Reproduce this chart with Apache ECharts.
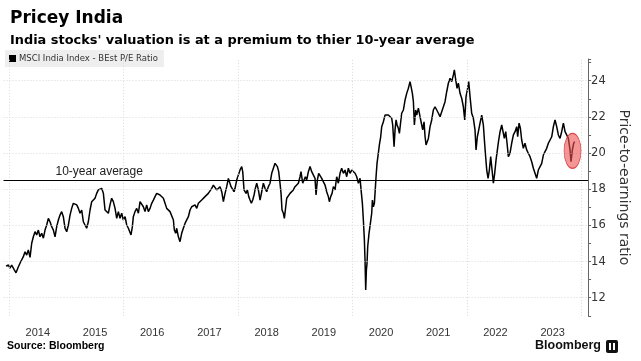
<!DOCTYPE html>
<html>
<head>
<meta charset="utf-8">
<script src="https://cdn.jsdelivr.net/npm/echarts@6/dist/echarts.min.js"></script>
<style>
html,body{margin:0;padding:0;background:#fff;}
#chart{width:641px;height:361px;}
</style>
</head>
<body>
<div id="chart"></div>
<script>
// ---- data (decimal years, P/E ratio) ----
const dates = [
2013.944,2013.985,2014.014,2014.043,2014.084,2014.119,2014.160,2014.201,2014.247,2014.276,
2014.305,2014.334,2014.364,2014.393,2014.422,2014.451,2014.480,2014.509,2014.538,2014.568,
2014.597,2014.626,2014.655,2014.684,2014.713,2014.743,2014.772,2014.801,2014.830,2014.859,
2014.888,2014.917,2014.946,2014.976,2015.005,2015.034,2015.063,2015.092,2015.121,2015.150,
2015.180,2015.209,2015.238,2015.267,2015.296,2015.325,2015.354,2015.383,2015.413,2015.442,
2015.471,2015.500,2015.529,2015.558,2015.587,2015.617,2015.646,2015.675,2015.704,2015.733,
2015.762,2015.791,2015.820,2015.850,2015.879,2015.908,2015.937,2015.966,2015.995,2016.025,
2016.054,2016.083,2016.112,2016.129,2016.153,2016.170,2016.199,2016.229,2016.258,2016.287,
2016.316,2016.345,2016.374,2016.403,2016.432,2016.462,2016.491,2016.520,2016.549,2016.578,
2016.607,2016.636,2016.666,2016.695,2016.724,2016.753,2016.782,2016.811,2016.840,2016.870,
2016.887,2016.910,2016.928,2016.957,2016.986,2017.015,2017.044,2017.073,2017.103,2017.132,
2017.161,2017.190,2017.219,2017.248,2017.278,2017.307,2017.336,2017.365,2017.394,2017.423,
2017.452,2017.481,2017.511,2017.540,2017.569,2017.598,2017.627,2017.656,2017.685,2017.715,
2017.744,2017.773,2017.802,2017.831,2017.848,2017.878,2017.901,2017.930,2017.948,2017.977,
2018.006,2018.035,2018.064,2018.082,2018.105,2018.140,2018.163,2018.187,2018.210,2018.233,
2018.257,2018.280,2018.303,2018.327,2018.356,2018.385,2018.414,2018.443,2018.472,2018.501,
2018.530,2018.560,2018.589,2018.618,2018.647,2018.665,2018.688,2018.711,2018.734,2018.752,
2018.769,2018.793,2018.810,2018.834,2018.851,2018.880,2018.909,2018.938,2018.967,2018.996,
2019.026,2019.055,2019.084,2019.101,2019.131,2019.154,2019.177,2019.200,2019.230,2019.259,
2019.288,2019.317,2019.346,2019.364,2019.387,2019.410,2019.434,2019.463,2019.492,2019.521,
2019.550,2019.579,2019.597,2019.620,2019.644,2019.667,2019.696,2019.725,2019.754,2019.783,
2019.812,2019.842,2019.871,2019.900,2019.929,2019.958,2019.987,2020.016,2020.046,2020.075,
2020.104,2020.133,2020.151,2020.174,2020.191,2020.209,2020.220,2020.232,2020.244,2020.255,
2020.267,2020.290,2020.314,2020.337,2020.349,2020.366,2020.384,2020.395,2020.413,2020.430,
2020.453,2020.471,2020.494,2020.512,2020.541,2020.570,2020.599,2020.628,2020.658,2020.687,
2020.704,2020.728,2020.745,2020.763,2020.780,2020.803,2020.821,2020.844,2020.861,2020.891,
2020.920,2020.949,2020.978,2021.007,2021.025,2021.048,2021.066,2021.083,2021.106,2021.124,
2021.153,2021.182,2021.211,2021.229,2021.252,2021.270,2021.287,2021.310,2021.328,2021.357,
2021.386,2021.415,2021.444,2021.474,2021.503,2021.532,2021.561,2021.590,2021.619,2021.648,
2021.677,2021.707,2021.736,2021.765,2021.782,2021.806,2021.829,2021.852,2021.881,2021.910,
2021.939,2021.963,2021.986,2022.009,2022.033,2022.056,2022.085,2022.114,2022.143,2022.161,
2022.184,2022.208,2022.231,2022.260,2022.289,2022.307,2022.324,2022.348,2022.371,2022.394,
2022.417,2022.441,2022.464,2022.487,2022.511,2022.534,2022.557,2022.581,2022.610,2022.639,
2022.656,2022.680,2022.703,2022.726,2022.755,2022.784,2022.814,2022.843,2022.872,2022.889,
2022.913,2022.936,2022.959,2022.988,2023.017,2023.046,2023.075,2023.105,2023.134,2023.163,
2023.192,2023.221,2023.250,2023.280,2023.309,2023.338,2023.367,2023.396,2023.425,2023.454,
2023.484,2023.513,2023.542,2023.571,2023.600,2023.629,2023.658,2023.688,2023.717,2023.746,
2023.775,2023.804,2023.821,2023.845,2023.868,2023.885
];
const peRatio = [
13.75,13.81,13.63,13.81,13.57,13.38,13.71,13.99,14.27,14.54,
14.36,14.64,14.23,15.01,15.37,15.65,15.47,15.74,15.37,15.56,
15.29,15.74,16.02,16.39,16.20,15.93,15.74,15.37,15.93,16.30,
16.57,16.76,16.48,15.84,15.65,16.02,16.57,16.94,17.22,17.31,
17.13,16.94,16.67,16.85,16.20,16.02,15.84,16.20,16.85,17.31,
17.22,17.50,17.77,17.96,18.00,18.05,17.77,16.85,16.94,16.67,
17.13,17.50,17.31,16.94,16.39,16.76,16.39,16.67,16.30,16.48,
16.02,15.84,15.74,15.47,15.93,16.48,16.76,16.94,16.67,17.31,
17.40,17.03,16.76,17.13,16.76,16.94,17.22,17.40,17.59,17.77,
17.86,17.68,17.59,17.50,17.22,16.94,17.03,16.76,16.85,16.30,
15.74,15.56,15.84,15.37,15.10,15.56,15.84,16.11,16.30,16.48,
16.85,17.03,16.94,17.13,16.94,17.22,17.22,17.40,17.31,17.59,
17.50,17.77,17.68,18.05,18.23,18.14,17.96,18.05,18.14,17.86,
17.31,17.77,18.14,18.60,18.51,18.14,18.23,17.86,18.05,18.51,
18.79,19.06,19.25,18.97,17.96,17.77,17.96,17.59,17.40,17.22,
17.40,17.68,18.05,18.33,17.96,17.40,17.86,18.33,18.05,17.86,
18.14,18.33,18.88,19.16,19.43,19.52,19.25,18.97,18.33,17.77,
16.85,16.67,16.39,17.03,17.50,17.59,17.77,17.68,17.96,18.14,
18.23,18.33,18.69,18.97,18.33,18.42,18.69,18.51,18.97,19.25,
18.97,18.88,18.60,17.68,18.51,18.88,18.88,18.60,18.69,18.23,
17.86,17.59,17.31,17.59,17.77,18.14,17.96,18.69,18.33,18.88,
19.16,18.88,19.06,18.69,19.16,18.88,19.06,18.97,18.88,18.69,
18.33,18.60,17.96,17.22,16.30,15.19,14.09,12.43,13.53,13.90,
14.82,15.56,16.11,16.67,17.40,17.03,17.22,17.77,18.69,19.43,
19.99,20.45,20.90,21.46,21.73,22.10,22.20,22.10,22.01,21.92,
21.55,20.35,21.28,21.83,21.55,21.37,21.09,21.73,22.20,22.38,
22.93,23.30,23.58,23.95,23.67,23.30,22.84,21.55,22.38,22.10,
22.48,22.01,21.55,21.28,21.73,20.90,20.45,20.35,20.81,21.46,
21.83,22.38,22.56,22.38,22.20,22.01,22.10,22.56,22.84,23.39,
23.86,24.13,23.95,24.32,24.60,24.04,23.58,23.86,23.30,23.03,
22.56,21.83,23.12,23.49,23.95,23.12,22.20,21.92,21.28,20.17,
20.90,21.28,21.65,22.10,21.55,20.72,19.99,19.06,18.60,19.06,
19.80,19.06,18.33,18.88,19.62,20.17,20.72,21.18,21.55,21.46,
20.81,21.18,20.54,19.80,19.99,20.54,21.00,21.18,21.46,20.90,
21.65,21.37,20.72,20.26,20.54,20.17,19.99,19.80,19.52,19.16,
18.88,18.60,19.06,19.25,19.43,19.89,20.08,20.26,20.54,20.63,
20.90,21.46,21.83,21.46,21.00,20.81,21.18,21.65,21.18,21.00,
20.81,20.17,19.52,20.17,20.54,20.63
];
const yearLabels = [2014,2015,2016,2017,2018,2019,2020,2021,2022,2023];
const gridYears = [2014,2016,2018,2020,2022,2024];
const yTicks = [12,14,16,18,20,22,24];
const tenYearAverage = 18.5;
const highlightPoint = [2023.848, 20.12];
const seriesName = 'MSCI India Index - BEst P/E Ratio';

const chart = echarts.init(document.getElementById('chart'), null, {renderer:'canvas'});
const seriesData = dates.map((d, i) => [d, peRatio[i]]);
const FONT = 'Liberation Sans';
const VFONT = 'DejaVu Sans';

const gridLineStyle = {color:'#d9d9d9', type:[1,2], width:1};

chart.setOption({
  animation: false,
  backgroundColor: '#ffffff',
  title: [
    {text:'Pricey India', left:5, top:5,
     textStyle:{fontFamily:VFONT, fontSize:17, fontWeight:'bold', color:'#000'}},
    {text:"India stocks' valuation is at a premium to thier 10-year average", left:5, top:29,
     textStyle:{fontFamily:VFONT, fontSize:12.9, fontWeight:'bold', color:'#000'}}
  ],
  legend: {
    data:[{name:seriesName, icon:'rect'}],
    left:5, top:50, padding:[4,6,4,4],
    itemWidth:7, itemHeight:7, itemGap:2,
    backgroundColor:'#eeeeee',
    textStyle:{fontFamily:VFONT, fontSize:8.5, color:'#333', padding:[0,0,0,-2]}
  },
  grid: {left:3.5, right:52.9, top:59, bottom:45.2, containLabel:false},
  xAxis: {
    type:'value', min:2013.9, max:2024.12,
    axisLine:{show:false}, axisTick:{show:false}, splitLine:{show:false},
    axisLabel:{
      customValues: yearLabels.map(y => y + 0.5),
      formatter: v => String(Math.floor(v)),
      fontFamily:FONT, fontSize:11, color:'#333', margin:12
    }
  },
  yAxis: {
    type:'value', position:'right', min:11, max:25.2, interval:1,
    axisLine:{show:true, lineStyle:{color:'#666', width:1}},
    axisTick:{show:true, length:3, lineStyle:{color:'#666'}},
    splitLine:{show:false},
    axisLabel:{
      formatter: v => (yTicks.indexOf(v) >= 0 ? String(v) : ''),
      fontFamily:VFONT, fontSize:11.5, color:'#333', margin:3
    },
    name:'Price-to-earnings ratio', nameLocation:'middle', nameRotate:-90, nameGap:17,
    nameTextStyle:{fontFamily:VFONT, fontSize:14, color:'#333'}
  },
  series: [
    {
      name:'grid', type:'line', data:[], silent:true, z:1,
      markLine:{
        silent:true, symbol:'none', label:{show:false},
        lineStyle:gridLineStyle,
        data: gridYears.map(y => ({xAxis:y})).concat(yTicks.map(v => ({yAxis:v})))
      },
      markPoint:{
        silent:true,
        label:{show:false},
        data:[{coord:highlightPoint, symbol:'circle', symbolSize:[17,35],
          itemStyle:{color:'rgba(236,80,80,0.6)', borderColor:'rgba(215,50,50,0.85)', borderWidth:1}}]
      }
    },
    {
      name:seriesName, type:'line', data:seriesData, z:3,
      showSymbol:false, symbol:'none',
      itemStyle:{color:'#000'},
      lineStyle:{color:'#000', width:1.5},
      markLine:{
        silent:true, symbol:'none',
        lineStyle:{color:'#000', type:'solid', width:1.2},
        label:{show:true, position:'insideStartTop', formatter:'10-year average',
          fontFamily:FONT, fontSize:12, color:'#222', distance:[52,2]},
        data:[{yAxis:tenYearAverage}]
      }
    }
  ],
  graphic: [
    {type:'text', left:7, top:341,
     style:{text:'Source: Bloomberg', fontFamily:FONT, fontSize:10.5, fontWeight:'bold', fill:'#000'}},
    {type:'text', left:535, top:339,
     style:{text:'Bloomberg', fontFamily:FONT, fontSize:12.5, fontWeight:'bold', fill:'#111'}},
    {type:'rect', left:606, top:340, shape:{width:12, height:13, r:2}, style:{fill:'#111'}},
    {type:'rect', left:609, top:343, shape:{width:2, height:7}, style:{fill:'#fff'}},
    {type:'rect', left:613, top:343, shape:{width:2, height:7}, style:{fill:'#fff'}}
  ]
});
</script>
</body>
</html>
